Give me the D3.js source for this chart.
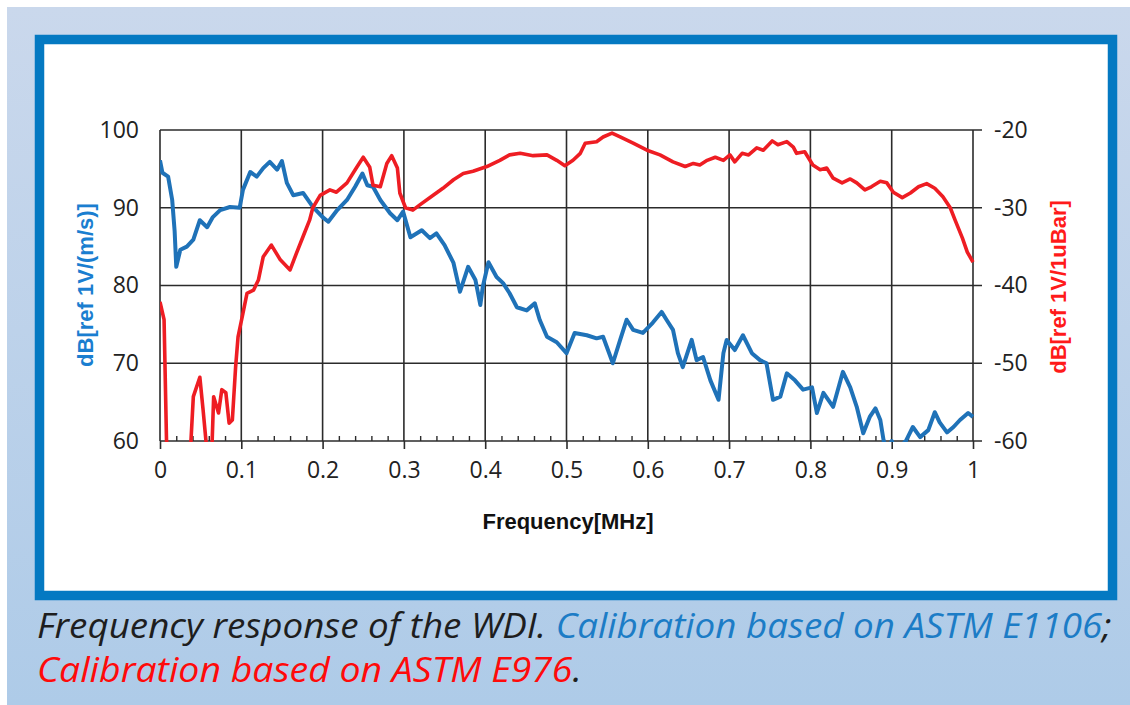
<!DOCTYPE html>
<html>
<head>
<meta charset="utf-8">
<script src="https://cdn.jsdelivr.net/npm/d3@7"></script>
<style>
  body { margin: 0; background: #fff; }
  svg { display: block; }
</style>
</head>
<body>
<div id="chart"></div>
<script>
// Blue curve: calibration based on ASTM E1106 (left axis, dB ref 1V/(m/s))
var blueFreq = [0, 0.003, 0.01, 0.015, 0.018, 0.02, 0.025, 0.033, 0.041, 0.049, 0.058, 0.065, 0.074, 0.086, 0.098,
  0.102, 0.111, 0.119, 0.127, 0.135, 0.144, 0.15, 0.156, 0.164, 0.176, 0.188, 0.2, 0.207, 0.218, 0.23, 0.24,
  0.249, 0.255, 0.262, 0.271, 0.283, 0.292, 0.299, 0.308, 0.322, 0.332, 0.34, 0.35, 0.361, 0.369, 0.379, 0.388,
  0.394, 0.397, 0.404, 0.414, 0.422, 0.43, 0.439, 0.451, 0.461, 0.467, 0.476, 0.488, 0.5, 0.51, 0.525, 0.537,
  0.545, 0.557, 0.566, 0.574, 0.582, 0.594, 0.606, 0.617, 0.623, 0.631, 0.637, 0.643, 0.654, 0.66, 0.668, 0.677,
  0.687, 0.693, 0.697, 0.707, 0.717, 0.728, 0.738, 0.746, 0.754, 0.763, 0.771, 0.781, 0.791, 0.802, 0.808, 0.816,
  0.828, 0.84, 0.849, 0.857, 0.865, 0.873, 0.88, 0.886, 0.89, 0.894, 0.9, 0.906, 0.912, 0.918, 0.926, 0.935,
  0.945, 0.953, 0.959, 0.968, 0.976, 0.984, 0.994, 1];
var blueDb = [96.1, 94.5, 94, 91, 87, 82.4, 84.6, 85, 85.9, 88.4, 87.5, 88.8, 89.7, 90.1, 90,
  92.3, 94.6, 94, 95.1, 95.9, 94.9, 96, 93.2, 91.6, 91.9, 90.1, 88.8, 88.2, 89.7, 91, 92.7,
  94.4, 92.9, 92.7, 91, 89.3, 88.4, 89.5, 86.2, 87.1, 86.1, 86.7, 85.2, 82.9, 79.2, 82.4, 80.7,
  77.5, 79.8, 83, 81.1, 80.3, 79, 77.2, 76.8, 77.7, 75.6, 73.4, 72.7, 71.3, 73.9, 73.6, 73.2,
  73.4, 70, 73, 75.6, 74.3, 73.9, 75.2, 76.6, 75.6, 74.3, 71.3, 69.5, 73, 70.4, 70.8, 67.8,
  65.3, 71.3, 73, 71.7, 73.6, 71.3, 70.4, 70, 65.3, 65.7, 68.7, 67.8, 66.6, 66.9, 63.6, 66.2,
  64.4, 68.9, 66.9, 64.4, 61, 63.1, 64.2, 62.7, 60.1, 58.5, 60, 58.8, 59.4, 60.1, 61.8, 60.5,
  61.4, 63.7, 62.4, 61.1, 61.8, 62.7, 63.6, 63.1];

// Red curve: calibration based on ASTM E976 (right axis, dB ref 1V/1uBar)
var redFreq = [0, 0.005, 0.008, 0.012, 0.036, 0.041, 0.049, 0.053, 0.057, 0.061, 0.064, 0.066, 0.072, 0.076, 0.081,
  0.085, 0.089, 0.093, 0.096, 0.102, 0.107, 0.115, 0.121, 0.127, 0.137, 0.148, 0.16, 0.168, 0.176, 0.184, 0.188,
  0.197, 0.209, 0.217, 0.23, 0.242, 0.25, 0.258, 0.262, 0.271, 0.279, 0.285, 0.292, 0.295, 0.302, 0.311, 0.32,
  0.336, 0.348, 0.361, 0.373, 0.385, 0.402, 0.418, 0.43, 0.443, 0.459, 0.476, 0.488, 0.498, 0.508, 0.517, 0.523,
  0.537, 0.545, 0.556, 0.566, 0.582, 0.599, 0.615, 0.631, 0.646, 0.656, 0.664, 0.673, 0.683, 0.693, 0.701, 0.707,
  0.716, 0.724, 0.734, 0.742, 0.753, 0.76, 0.771, 0.779, 0.783, 0.793, 0.803, 0.812, 0.82, 0.828, 0.839, 0.849,
  0.857, 0.867, 0.875, 0.886, 0.894, 0.902, 0.913, 0.923, 0.933, 0.943, 0.953, 0.963, 0.972, 0.978, 0.987, 0.993, 1];
var redDb = [-42.1, -44.4, -59.9, -64, -64, -54.3, -51.8, -56, -60.5, -63, -60.5, -54.3, -56.4, -53.4, -53.8,
  -57.7, -57.3, -50.5, -46.6, -43.6, -41, -40.6, -39.3, -36.3, -34.8, -36.7, -38, -35.8, -33.7, -31.6, -30,
  -28.4, -27.7, -28, -26.8, -24.8, -23.5, -24.8, -27.1, -27.3, -24.3, -23.3, -24.9, -28.1, -30, -30.3, -29.6,
  -28.4, -27.5, -26.4, -25.6, -25.3, -24.7, -23.9, -23.2, -23, -23.3, -23.2, -23.9, -24.6, -23.9, -23, -21.7,
  -21.5, -20.9, -20.4, -20.9, -21.7, -22.6, -23.2, -24.1, -24.7, -24.3, -24.5, -23.9, -23.5, -23.9, -23.2, -24.1,
  -23, -23.2, -22.3, -22.6, -21.4, -21.9, -21.5, -22.2, -23, -22.8, -24.5, -25.1, -24.9, -26.2, -26.8, -26.3,
  -26.8, -27.7, -27.3, -26.6, -26.8, -28, -28.7, -28.1, -27.3, -26.9, -27.5, -28.6, -30, -31.6, -33.9, -35.7, -37];

var xTicks = [0, 0.1, 0.2, 0.3, 0.4, 0.5, 0.6, 0.7, 0.8, 0.9, 1];
var xMinorTicks = d3.range(0, 50).map(function(i) { return i * 0.02; }).filter(function(v, i) { return i % 5 !== 0; });
var leftTicks = [60, 70, 80, 90, 100];
var rightTicks = [-60, -50, -40, -30, -20];

var svgWidth = 1130;
var svgHeight = 705;

// Plot area (pixel edges)
var plot = { left: 160, right: 973, top: 130, bottom: 441 };

var svg = d3.select("#chart")
  .append("svg")
  .attr("width", svgWidth)
  .attr("height", svgHeight);

// Background gradient
var defs = svg.append("defs");
var grad = defs.append("linearGradient")
  .attr("id", "bg")
  .attr("x1", 0).attr("y1", 0).attr("x2", 0).attr("y2", 1);
grad.append("stop").attr("offset", "0%").attr("stop-color", "#cad8ec");
grad.append("stop").attr("offset", "100%").attr("stop-color", "#aecbe8");

defs.append("clipPath")
  .attr("id", "plotClip")
  .append("rect")
  .attr("x", plot.left)
  .attr("y", plot.top - 5)
  .attr("width", plot.right - plot.left + 3)
  .attr("height", plot.bottom - plot.top + 6);

svg.append("rect")
  .attr("x", 7).attr("y", 7)
  .attr("width", svgWidth - 7).attr("height", svgHeight - 7)
  .attr("fill", "url(#bg)");

// Blue frame with white panel
svg.append("rect")
  .attr("x", 39.5).attr("y", 39.5)
  .attr("width", 1073).attr("height", 556)
  .attr("fill", "#fff")
  .attr("stroke", "#0479c2")
  .attr("stroke-width", 9.5);

// Scales
var x = d3.scaleLinear().domain([0, 1]).range([plot.left, plot.right]);
var yLeft = d3.scaleLinear().domain([60, 100]).range([plot.bottom, plot.top]);
var yRight = d3.scaleLinear().domain([-60, -20]).range([plot.bottom, plot.top]);

var gridColor = "#2b2b2b";
var chartGroup = svg.append("g");

// Vertical gridlines
chartGroup.selectAll(".vgrid")
  .data(xTicks)
  .enter()
  .append("line")
  .attr("x1", d => x(d)).attr("x2", d => x(d))
  .attr("y1", plot.top).attr("y2", plot.bottom)
  .attr("stroke", gridColor)
  .attr("stroke-width", 1.6);

// Horizontal gridlines, running out past the right edge as right-axis ticks
chartGroup.selectAll(".hgrid")
  .data(leftTicks)
  .enter()
  .append("line")
  .attr("x1", plot.left).attr("x2", plot.right + 9)
  .attr("y1", d => yLeft(d)).attr("y2", d => yLeft(d))
  .attr("stroke", gridColor)
  .attr("stroke-width", 1.6);

// Bottom axis: major ticks outward
var bottomAxis = d3.axisBottom(x)
  .tickValues(xTicks)
  .tickSize(8)
  .tickFormat(d => d3.format("")(d));

var xAxisG = chartGroup.append("g")
  .attr("transform", `translate(0, ${plot.bottom})`)
  .call(bottomAxis);
xAxisG.select(".domain").remove();
xAxisG.selectAll(".tick line").attr("stroke", gridColor).attr("stroke-width", 1.6);
xAxisG.selectAll(".tick text")
  .attr("y", 37)
  .attr("dy", 0)
  .attr("fill", "#222")
  .style("font-family", "'Open Sans', sans-serif")
  .style("font-size", "23px");

// Bottom axis: minor ticks inward
var minorAxis = d3.axisBottom(x)
  .tickValues(xMinorTicks)
  .tickSize(-5)
  .tickFormat("");
var minorG = chartGroup.append("g")
  .attr("transform", `translate(0, ${plot.bottom})`)
  .call(minorAxis);
minorG.select(".domain").remove();
minorG.selectAll(".tick line").attr("stroke", gridColor).attr("stroke-width", 1.4);

// Left axis labels
var leftAxis = d3.axisLeft(yLeft).tickValues(leftTicks).tickSize(0).tickPadding(21);
var leftG = chartGroup.append("g")
  .attr("transform", `translate(${plot.left}, 0)`)
  .call(leftAxis);
leftG.select(".domain").remove();
leftG.selectAll(".tick text")
  .attr("fill", "#222")
  .style("font-family", "'Open Sans', sans-serif")
  .style("font-size", "23px");

// Right axis labels
var rightAxis = d3.axisRight(yRight).tickValues(rightTicks).tickSize(0).tickPadding(21)
  .tickFormat(d => "-" + Math.abs(d));
var rightG = chartGroup.append("g")
  .attr("transform", `translate(${plot.right}, 0)`)
  .call(rightAxis);
rightG.select(".domain").remove();
rightG.selectAll(".tick text")
  .attr("fill", "#222")
  .style("font-family", "'Open Sans', sans-serif")
  .style("font-size", "23px");

// Curves
var blueLine = d3.line()
  .x((d, i) => x(blueFreq[i]))
  .y(d => yLeft(d));
var redLine = d3.line()
  .x((d, i) => x(redFreq[i]))
  .y(d => yRight(d));

var curves = chartGroup.append("g").attr("clip-path", "url(#plotClip)");
curves.append("path")
  .datum(blueDb)
  .attr("d", blueLine)
  .attr("fill", "none")
  .attr("stroke", "#1f72b8")
  .attr("stroke-width", 4)
  .attr("stroke-linejoin", "round");
curves.append("path")
  .datum(redDb)
  .attr("d", redLine)
  .attr("fill", "none")
  .attr("stroke", "#ee1d23")
  .attr("stroke-width", 3.6)
  .attr("stroke-linejoin", "round");

// Axis titles
chartGroup.append("text")
  .attr("transform", "translate(93, 285) rotate(-90)")
  .attr("text-anchor", "middle")
  .attr("fill", "#1a7ed0")
  .style("font-family", "'Liberation Sans', Arial, sans-serif")
  .style("font-weight", "bold")
  .style("font-size", "22px")
  .text("dB[ref 1V/(m/s)]");

chartGroup.append("text")
  .attr("transform", "translate(1066, 287) rotate(-90)")
  .attr("text-anchor", "middle")
  .attr("fill", "#ff1a1a")
  .style("font-family", "'Liberation Sans', Arial, sans-serif")
  .style("font-weight", "bold")
  .style("font-size", "22px")
  .text("dB[ref 1V/1uBar]");

chartGroup.append("text")
  .attr("x", 568)
  .attr("y", 529)
  .attr("text-anchor", "middle")
  .attr("fill", "#111")
  .style("font-family", "'Liberation Sans', Arial, sans-serif")
  .style("font-weight", "bold")
  .style("font-size", "22px")
  .text("Frequency[MHz]");

// Caption
function captionLine(y, parts, targetWidth) {
  var t = svg.append("text")
    .style("font-family", "'Open Sans', sans-serif")
    .style("font-style", "italic")
    .style("font-size", "35px");
  parts.forEach(function(p) {
    t.append("tspan").attr("fill", p[1]).text(p[0]);
  });
  var w = t.node().getComputedTextLength();
  t.attr("transform", `translate(37, ${y}) scale(${targetWidth / w}, 1)`);
}
captionLine(638, [["Frequency response of the WDI.  ", "#1e1e1e"],
  ["Calibration based on ASTM E1106", "#1c7cc6"], [";", "#1e1e1e"]], 1075);
captionLine(682, [["Calibration based on ASTM E976", "#ff0a0a"], [".", "#1e1e1e"]], 545);
</script>
</body>
</html>
